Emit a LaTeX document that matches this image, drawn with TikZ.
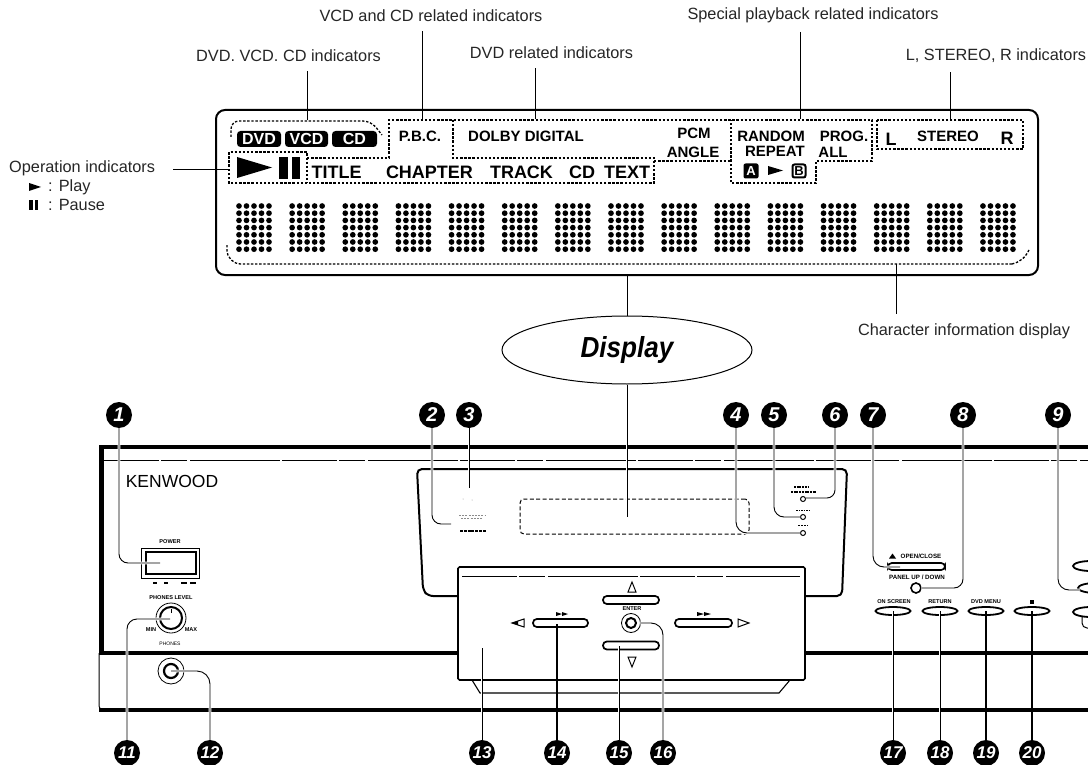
\documentclass[tikz,border=0pt]{standalone}
\usepackage{fontspec}
\setmainfont{Liberation Sans}
\usetikzlibrary{shapes.geometric,calc}
\newcommand{\fsz}[1]{\fontsize{#1}{#1}\selectfont}
\tikzset{
 lbl/.style={inner xsep=0pt,inner ysep=9pt,text=black!85,font=\fsz{16.3}},
 lcd/.style={inner sep=0pt,font=\bfseries\fsz{15}},
 ttl/.style={inner sep=0pt,font=\bfseries\fsz{18}},
 badge/.style={fill=black,text=white,rounded corners=3.5pt,inner sep=0pt,minimum height=16pt,font=\bfseries\fsz{16}},
 numc/.style={circle,fill=black,text=white,inner sep=0pt,minimum size=26pt,font=\bfseries\itshape\fsz{20}},
 numd/.style={numc,font=\bfseries\itshape\fsz{17}},
 conn/.style={line width=0.9pt,preaction={draw=white,line width=2.6pt}},
 leadl/.style={line width=1.0pt},
 dots/.style={line width=1.3pt,dash pattern=on 2.4pt off 1.7pt},
 frame/.style={line width=4pt},
 wall/.style={line width=2pt,rounded corners=5pt},
 thin/.style={line width=0.8pt,dash pattern=on 55pt off 2pt on 26pt off 3pt on 90pt off 2pt},
 tiny/.style={inner sep=0pt,font=\bfseries\fsz{5.6}},
 pill/.style={draw,line width=1.7pt,rounded corners=3.8pt,inner sep=0pt,fill=white},
 flat/.style={draw,ellipse,line width=1.8pt,inner sep=0pt,minimum width=35pt,minimum height=8pt,fill=white},
}
\begin{document}
\begin{tikzpicture}[x=1pt,y=-1pt]
\useasboundingbox (0,0) rectangle (1088,765);
\fill[white] (0,0) rectangle (1088,765);

% ---------- indicator display ----------
\node[draw,line width=2pt,rounded corners=9pt,minimum width=822pt,minimum height=165pt,inner sep=0pt] (lcdbox) at (627,192.5) {};

\draw[dots,rounded corners=8pt] (231,137) -- (231,121) -- (371,121) -- (382,135);
\draw[dots] (307,158) -- (389,158) -- (389,120) -- (872,120) -- (872,161) -- (816,161) -- (816,183) -- (731,183) -- (731,120);
\draw[dots] (453,120) -- (453,158) -- (654,158) -- (654,183) -- (229,183) -- (229,152) -- (307,152) -- (307,183);
\draw[dots] (654,161) -- (731,161);
\draw[dots] (877,120) rectangle (1023,149);
\draw[dots,rounded corners=14pt] (227,245) -- (227,264) -- (1012,264);
\draw[dots] (1012,264) .. controls (1020,262) and (1025,258) .. (1029,250);

\node[badge,minimum width=44pt] (bDVD) at (259,139) {DVD};
\node[badge,minimum width=43pt] (bVCD) at (306.5,139) {VCD};
\node[badge,minimum width=45pt] (bCD) at (354.5,139) {CD};
\fill (237,157) -- (272,167.5) -- (237,178) -- cycle;
\fill (279,157) rectangle (288,179);
\fill (292,157) rectangle (300,179);

\node[ttl] (tTitle) at (336.5,172) {TITLE};
\node[ttl] (tChap) at (429.5,172) {CHAPTER};
\node[ttl] (tTrack) at (521.5,172) {TRACK};
\node[ttl] (tCD) at (582,172) {CD};
\node[ttl] (tText) at (627,172) {TEXT};
\node[lcd] (tPBC) at (420,136) {P.B.C.};
\node[lcd] (tDolby) at (526,136) {DOLBY DIGITAL};
\node[lcd] (tPCM) at (694,133) {PCM};
\node[lcd] (tAngle) at (693,152) {ANGLE};
\node[lcd] (tRandom) at (771,136) {RANDOM};
\node[lcd] (tProg) at (844,136) {PROG.};
\node[lcd] (tRepeat) at (775,151) {REPEAT};
\node[lcd] (tAll) at (833,152) {ALL};
\node[fill=black,text=white,rounded corners=2pt,inner sep=0pt,minimum size=15pt,font=\bfseries\fsz{13}] (tA) at (751,171) {A};
\fill (768,166) -- (783,170.5) -- (768,175) -- cycle;
\node[draw,line width=2pt,rounded corners=2pt,inner sep=0pt,minimum size=13pt,font=\bfseries\fsz{13}] (tB) at (799,171) {B};
\node[lcd,font=\bfseries\fsz{18}] (tL) at (891,139) {L};
\node[lcd] (tSt) at (948,136) {STEREO};
\node[lcd,font=\bfseries\fsz{18}] (tR) at (1007,138) {R};

\foreach \c in {0,...,14} \foreach \i in {0,...,4} \foreach \j in {0,...,6}
  \fill ({239+\c*53.14+\i*7.5},{206+\j*7.2}) circle (2.85pt);

% ---------- labels of the display ----------
\node[lbl] (lVCD) at (431,16) {VCD and CD related indicators};
\node[lbl] (lDisc) at (288.5,56) {DVD. VCD. CD indicators};
\node[lbl] (lDVD) at (551.5,53) {DVD related indicators};
\node[lbl] (lSpec) at (813,15) {Special playback related indicators};
\node[lbl] (lLR) at (996,56) {L, STEREO, R indicators};
\node[lbl,anchor=west] (lOp) at (9,168) {Operation indicators};
\node[lbl,anchor=west,inner ysep=0pt] (lPlay) at (48,187) {: Play};
\node[lbl,anchor=west,inner ysep=0pt] (lPause) at (48,205) {: Pause};
\fill (29,183) -- (41,187) -- (29,191) -- cycle;
\fill (29,200) rectangle (32.5,210);
\fill (34.5,200) rectangle (38,210);
\node[lbl] (lChar) at (964,331) {Character information display};

\coordinate (eVCD) at (422,119);
\coordinate (eDisc) at (307,120);
\coordinate (eDVD) at (535,119);
\coordinate (eSpec) at (800,119);
\coordinate (eLR) at (950,120);
\coordinate (eOp) at (229,170);
\coordinate (eChar) at (896,264);
\coordinate (sOp) at (173,170);
\draw[leadl] (lVCD.south -| eVCD) -- (eVCD);
\draw[leadl] (lDisc.south -| eDisc) -- (eDisc);
\draw[leadl] (lDVD.south -| eDVD) -- (eDVD);
\draw[leadl] (lSpec.south -| eSpec) -- (eSpec);
\draw[leadl] (lLR.south -| eLR) -- (eLR);
\draw[leadl] (sOp) -- (eOp);
\draw[leadl] (eChar) -- (eChar |- lChar.north);

% ---------- callout ----------
\node[draw,ellipse,line width=1pt,minimum width=250pt,minimum height=68pt,inner sep=0pt,font=\bfseries\itshape\fsz{29}] (disp) at (627,350) {\scalebox{.9}[1]{Display}};
\draw[leadl] (lcdbox.south -| disp) -- (disp.north);

% ---------- front panel ----------
\draw[frame] (100,447) -- (1088,447);
\draw[line width=4.5pt] (101.5,445) -- (101.5,655);
\draw[frame] (99,653) -- (458,653);
\draw[frame] (805,653) -- (1088,653);
\draw[line width=1pt,rounded corners=4pt] (99,653) -- (99,710) -- (110,710);
\draw[frame,rounded corners=2pt] (99,710) -- (1088,710);
\draw[thin] (104,460) -- (1088,460);
\draw[wall] (458,596) -- (428,596) -- (423,590) -- (417,469) -- (847,469) -- (842,596) -- (805,596);

\node[inner sep=0pt,font=\fsz{17.5}] (kw) at (172,481) {KENWOOD};

% panel under the disc tray
\draw[line width=1.6pt,fill=white,rounded corners=1.5pt] (458,567) rectangle (805,680);
\draw[thin,line width=.6pt] (462,576) -- (800,576);
\draw[line width=1.1pt] (472,680) -- (480,693) -- (779,693) -- (790,680);

\node[draw,line width=1pt,rounded corners=4pt,minimum width=229pt,minimum height=35pt,inner sep=0pt,dash pattern=on 4pt off 2.4pt] (tray) at (634.5,516.5) {};

% power switch and phones
\node[tiny] (tPower) at (170,542) {POWER};
\node[draw,line width=.8pt,minimum width=58pt,minimum height=30pt,inner sep=0pt] (bPower) at (170,563) {};
\draw[line width=1.6pt] (146,552) rectangle (196,574);
\foreach \x/\w in {153/4,164/4,181/6,190/6} \fill (\x,582) rectangle ++(\w,2);
\node[tiny] (tPhL) at (171,598) {PHONES LEVEL};
\node[circle,draw,line width=.8pt,minimum size=30pt,inner sep=0pt] (knob) at (171,618) {};
\draw[line width=2pt] (171,618) circle (11pt);
\draw[line width=1pt] (171,609) -- (171,613);
\node[tiny] (tMin) at (151,630) {MIN};
\node[tiny] (tMax) at (191,630) {MAX};
\node[tiny,font=\fsz{5}] (tPh) at (170,644) {PHONES};
\node[circle,draw,line width=.8pt,minimum size=26pt,inner sep=0pt] (jack) at (171,671) {};
\draw[line width=2.2pt] (171,671) circle (7pt);

% left small marks under 2 and 3
\foreach \y/\x/\w in {515/459/26,518/461/22} \draw[black!45,line width=.7pt,dash pattern=on 2pt off 1.2pt] (\x,\y) -- ++(\w,0);
\fill[black!40] (469,486) circle (.5pt) (463,499) circle (.5pt) (472,500) circle (.5pt);
\draw[line width=2.4pt,dash pattern=on 3pt off .8pt] (460,531) -- (486,531);
\coordinate (pt2) at (451,524);
\coordinate (pt3) at (469,488);
\coordinate (pt13) at (482,648);

% right LEDs
\node[circle,draw,line width=1pt,minimum size=5pt,inner sep=0pt] (led6) at (803,499) {};
\node[circle,draw,line width=1pt,minimum size=5pt,inner sep=0pt] (led5) at (803,517) {};
\node[circle,draw,line width=1pt,minimum size=5pt,inner sep=0pt] (led4) at (803,533) {};
\draw[line width=1.5pt,dash pattern=on 2pt off .7pt] (794,487) -- (808,487);
\draw[line width=1.5pt,dash pattern=on 2pt off .7pt] (791,492) -- (816,492);
\draw[line width=.9pt,dash pattern=on 1.5pt off 1pt] (796,510) -- (810,510);
\draw[line width=1pt,dash pattern=on 2pt off 1pt] (798,525) -- (808,525);

% open / close
\fill (889,558.5) -- (892.5,553.5) -- (896,558.5) -- cycle;
\node[tiny,font=\bfseries\fsz{6.2}] (tOpen) at (921,556) {OPEN/CLOSE};
\node[pill,minimum width=57pt,minimum height=7pt] (bOpen) at (916.5,566.5) {};
\node[tiny,font=\bfseries\fsz{6.2}] (tPanel) at (917,577) {PANEL UP / DOWN};
\node[circle,draw,line width=1.6pt,minimum size=10pt,inner sep=0pt] (bPanel) at (916,588) {};

% menu buttons
\node[tiny] (tOn) at (894,602) {ON SCREEN};
\node[tiny] (tRet) at (940,602) {RETURN};
\node[tiny] (tMenu) at (986,602) {DVD MENU};
\fill (1030,600) rectangle (1034,604);
\node[flat] (bOn) at (893,611) {};
\node[flat] (bRet) at (940,611) {};
\node[flat] (bMenu) at (986,611) {};
\node[flat] (bStop) at (1032,611) {};

% partly visible buttons at the edge
\begin{scope}
\clip (1060,540) rectangle (1088,640);
\draw[line width=1.8pt] (1091,566) ellipse (18pt and 5pt);
\draw[line width=1.8pt] (1096,588) ellipse (18pt and 5pt);
\draw[line width=1.8pt] (1091,612) ellipse (18pt and 5pt);
\draw[line width=1pt,rounded corners=5pt] (1082,616) -- (1082,628) -- (1090,628);
\end{scope}

% cursor buttons
\node[pill,minimum width=56pt,minimum height=8pt] (bUp) at (631,600) {};
\node[pill,minimum width=56pt,minimum height=8pt] (bDown) at (631,645.5) {};
\node[pill,minimum width=55pt,minimum height=8pt] (bLeft) at (560.5,623) {};
\node[pill,minimum width=57pt,minimum height=8pt] (bRight) at (703.5,623) {};
\node[tiny] (tEnter) at (632,609) {ENTER};
\node[circle,draw,line width=.8pt,minimum size=19pt,inner sep=0pt] (jEnter) at (631,623) {};
\draw[line width=2pt] (631,623) circle (5pt);
\draw[line width=1pt] (632,582) -- (628,592) -- (636,592) -- cycle;
\draw[line width=1pt] (632,667) -- (628,657) -- (636,657) -- cycle;
\draw[line width=1pt] (512,623) -- (524,619) -- (524,627) -- cycle;
\fill (512,623) -- (518,621) -- (518,625) -- cycle;
\draw[line width=1pt] (749,623) -- (738,619) -- (738,627) -- cycle;
\fill (556,612) -- (562,614) -- (562,612) -- (568,614) -- (562,616) -- (562,614) -- (556,616) -- cycle;
\fill (697,612) -- (704,614) -- (704,612) -- (711,614) -- (704,616) -- (704,614) -- (697,616) -- cycle;

% ---------- numbered callouts ----------
\foreach \nm/\x in {1/119,2/432,3/469,4/736,5/774,6/835,7/873,8/963,9/1058}
  \node[numc] (n\nm) at (\x,415) {\nm};
\foreach \nm/\x in {11/127,12/210,13/482,14/557,15/619,16/663,17/893,18/940,19/986,20/1032}
  \node[numd] (n\nm) at (\x,753) {\nm};

% connectors
\coordinate (c1) at (160,563);
\coordinate (c4) at (800,533);
\coordinate (c5) at (800,517);
\coordinate (c6) at (806,498);
\coordinate (c7) at (900,567);
\coordinate (c8) at (921,588);
\coordinate (c9) at (1080,590);
\coordinate (c11) at (170,619);
\coordinate (c12) at (171,671);
\coordinate (c14) at (557,624);
\coordinate (c15) at (619,646);
\coordinate (c16) at (640,623);
\draw[conn,rounded corners=9pt] (n1.south) |- (c1);
\draw[conn,rounded corners=9pt] (n2.south) |- (pt2);
\draw[conn] (n3.south) -- (pt3);
\draw[conn,rounded corners=11pt] (n4.south) |- (c4);
\draw[conn,rounded corners=10pt] (n5.south) |- (c5);
\draw[conn,rounded corners=8pt] (n6.south) |- (c6);
\draw[conn,rounded corners=11pt] (n7.south) |- (c7);
\draw[conn,rounded corners=9pt] (n8.south) |- (c8);
\draw[conn,rounded corners=11pt] (n9.south) |- (c9);
\draw[conn,rounded corners=10pt] (n11.north) |- (c11);
\draw[conn,rounded corners=13pt] (n12.north) |- (c12);
\draw[conn] (n13.north) -- (pt13);
\draw[conn,line width=1.2pt] (n14.north) -- (c14);
\draw[conn] (n15.north) -- (c15);
\draw[conn,rounded corners=12pt] (n16.north) |- (c16);
\draw[conn] (n17.north) -- (bOn.center);
\draw[conn] (n18.north) -- (bRet.center);
\draw[conn,line width=1.2pt] (n19.north) -- (bMenu.center);
\draw[conn,line width=1.4pt] (n20.north) -- (bStop.center);
\draw[conn] (disp.south) -- (disp.south |- tray.center);
\end{tikzpicture}
\end{document}
